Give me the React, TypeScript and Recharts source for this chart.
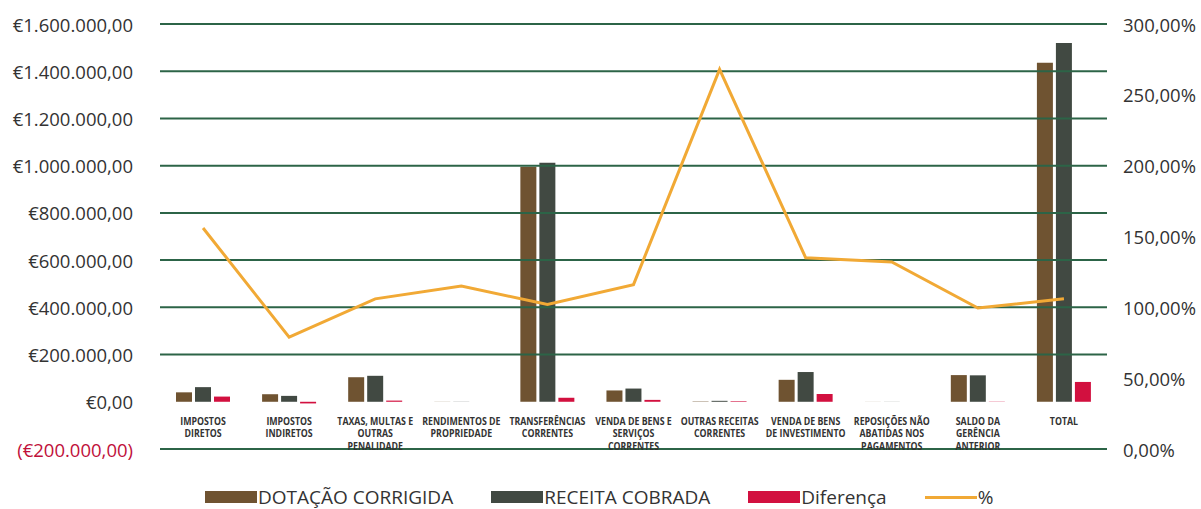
import React from "react";
import {
  Bar,
  ComposedChart,
  Line,
  ReferenceLine,
  XAxis,
  YAxis,
} from "recharts";

const categories = [
  "IMPOSTOS DIRETOS",
  "IMPOSTOS INDIRETOS",
  "TAXAS, MULTAS E OUTRAS PENALIDADE",
  "RENDIMENTOS DE PROPRIEDADE",
  "TRANSFERÊNCIAS CORRENTES",
  "VENDA DE BENS E SERVIÇOS CORRENTES",
  "OUTRAS RECEITAS CORRENTES",
  "VENDA DE BENS DE INVESTIMENTO",
  "REPOSIÇÕES NÃO ABATIDAS NOS PAGAMENTOS",
  "SALDO DA GERÊNCIA ANTERIOR",
  "TOTAL",
];

const dotacaoCorrigida = [40000, 32000, 104000, 500, 995000, 48000, 1500, 93000, 300, 113000, 1436000];
const receitaCobrada = [62000, 25000, 110000, 575, 1012000, 56000, 4000, 126000, 400, 112000, 1520000];
const diferenca = [22000, -7000, 5000, 75, 17000, 8000, 2500, 33000, 100, -1000, 84000];
const percentagem = [156, 79, 106, 115, 102, 116, 268, 135, 132, 99.5, 106];

const euroTicks = [-200000, 0, 200000, 400000, 600000, 800000, 1000000, 1200000, 1400000, 1600000];
const gridValues = euroTicks.filter((v) => v !== 0);
const pctTicks = [0, 50, 100, 150, 200, 250, 300];

const COLORS = {
  dotacao: "#6f5331",
  receita: "#414942",
  diferenca: "#d2103f",
  pct: "#f1a935",
  grid: "#2c6447",
  text: "#333333",
  negative: "#c0103a",
};

const data = categories.map((name, i) => ({
  name,
  dotacao: dotacaoCorrigida[i],
  receita: receitaCobrada[i],
  diferenca: diferenca[i],
  pct: percentagem[i],
}));

function formatEuro(value: number): string {
  const abs = Math.abs(value);
  const [int, dec] = abs.toFixed(2).split(".");
  const grouped = int.replace(/\B(?=(\d{3})+(?!\d))/g, ".");
  const s = `€${grouped},${dec}`;
  return value < 0 ? `(${s})` : s;
}

function formatPct(value: number): string {
  return `${value.toFixed(2).replace(".", ",")}%`;
}

// wrap long category names roughly like Excel does (about 15 chars per line)
function wrapLabel(label: string, max = 15): string[] {
  const words = label.split(" ");
  const lines: string[] = [];
  let current = "";
  for (const w of words) {
    const next = current ? `${current} ${w}` : w;
    if (next.length > max && current) {
      lines.push(current);
      current = w;
    } else {
      current = next;
    }
  }
  if (current) lines.push(current);
  return lines;
}

function CategoryTick({ x, y, payload }: { x?: number; y?: number; payload?: { value: string } }) {
  if (x == null || y == null || !payload) return null;
  const lines = wrapLabel(payload.value);
  // labels sit just under the zero line, not at the bottom of the plot;
  // squeezed horizontally since no narrow font is installed
  const top = y - 32;
  return (
    <g transform={`translate(${x},${top}) scale(0.8,1)`}>
      <text
        x={0}
        y={0}
        textAnchor="middle"
        fill="#333"
        fontSize={11}
        fontWeight={700}
        fontFamily="'Open Sans', sans-serif"
      >
        {lines.map((line, i) => (
          <tspan key={i} x={0} dy={i === 0 ? 0 : 12.5}>
            {line}
          </tspan>
        ))}
      </text>
    </g>
  );
}

function EuroTick({ x, y, payload }: { x?: number; y?: number; payload?: { value: number } }) {
  if (x == null || y == null || !payload) return null;
  return (
    <text
      x={x}
      y={y}
      textAnchor="end"
      dominantBaseline="central"
      fill={payload.value < 0 ? COLORS.negative : COLORS.text}
      fontSize={18.5}
      fontFamily="'Open Sans', sans-serif"
    >
      {formatEuro(payload.value)}
    </text>
  );
}

function PctTick({ x, y, payload }: { x?: number; y?: number; payload?: { value: number } }) {
  if (x == null || y == null || !payload) return null;
  return (
    <text
      x={x}
      y={y}
      textAnchor="start"
      dominantBaseline="central"
      fill={COLORS.text}
      fontSize={18.5}
      fontFamily="'Open Sans', sans-serif"
    >
      {formatPct(payload.value)}
    </text>
  );
}

const legendItems = [
  { label: "DOTAÇÃO CORRIGIDA", color: COLORS.dotacao, kind: "bar" },
  { label: "RECEITA COBRADA", color: COLORS.receita, kind: "bar" },
  { label: "Diferença", color: COLORS.diferenca, kind: "bar" },
  { label: "%", color: COLORS.pct, kind: "line" },
];

export default function App() {
  return (
    <div style={{ position: "absolute", left: 0, top: 0, width: 1201, height: 509, background: "#fff" }}>
      <ComposedChart
        width={1201}
        height={470}
        data={data}
        margin={{ top: 24, right: 0, bottom: 0, left: 0 }}
        barSize={16}
        barGap={3}
      >
        <XAxis
          dataKey="name"
          xAxisId="cat"
          height={21}
          interval={0}
          axisLine={false}
          tickLine={false}
          tick={<CategoryTick />}
        />
        <YAxis
          yAxisId="eur"
          width={160}
          domain={[-200000, 1600000]}
          ticks={euroTicks}
          interval={0}
          axisLine={false}
          tickLine={false}
          tickMargin={21}
          tick={<EuroTick />}
        />
        <YAxis
          yAxisId="pct"
          orientation="right"
          width={94}
          domain={[0, 300]}
          ticks={pctTicks}
          interval={0}
          axisLine={false}
          tickLine={false}
          tickMargin={10}
          tick={<PctTick />}
        />
        {gridValues.map((v) => (
          <ReferenceLine key={v} y={v} yAxisId="eur" xAxisId="cat" stroke={COLORS.grid} strokeWidth={2} />
        ))}
        <Bar dataKey="dotacao" name="DOTAÇÃO CORRIGIDA" xAxisId="cat" yAxisId="eur" fill={COLORS.dotacao} isAnimationActive={false} />
        <Bar dataKey="receita" name="RECEITA COBRADA" xAxisId="cat" yAxisId="eur" fill={COLORS.receita} isAnimationActive={false} />
        <Bar dataKey="diferenca" name="Diferença" xAxisId="cat" yAxisId="eur" fill={COLORS.diferenca} isAnimationActive={false} />
        <Line
          dataKey="pct"
          name="%"
          xAxisId="cat"
          yAxisId="pct"
          type="linear"
          stroke={COLORS.pct}
          strokeWidth={3}
          dot={false}
          isAnimationActive={false}
        />
      </ComposedChart>
      <div
        style={{
          position: "absolute",
          top: 484,
          left: 205,
          height: 26,
          display: "flex",
          alignItems: "center",
          gap: 38,
          fontFamily: "'Open Sans', sans-serif",
          fontSize: 19,
          color: COLORS.text,
        }}
      >
        {legendItems.map((item) => (
          <div key={item.label} style={{ display: "flex", alignItems: "center", gap: 1 }}>
            <span
              style={{
                display: "inline-block",
                width: 52,
                height: item.kind === "bar" ? 12 : 3,
                background: item.color,
              }}
            />
            <span>{item.label}</span>
          </div>
        ))}
      </div>
    </div>
  );
}
